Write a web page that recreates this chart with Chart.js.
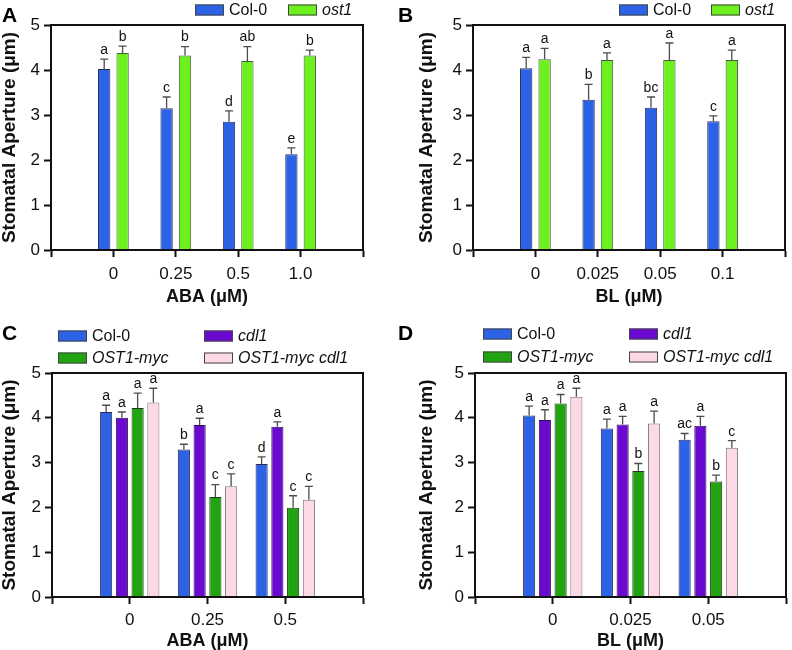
<!DOCTYPE html>
<html><head><meta charset="utf-8">
<script src="https://cdn.jsdelivr.net/npm/chart.js@4.4.1/dist/chart.umd.min.js"></script>
<style>
html,body{margin:0;padding:0;background:#fff;}
#wrap{position:relative;width:792px;height:650px;overflow:hidden;background:#fff;}
.pan{position:absolute;}
</style></head><body>
<div id="wrap">
<div class="pan" style="left:0;top:0;width:396px;height:320px"><canvas id="cA"></canvas></div>
<div class="pan" style="left:396px;top:0;width:396px;height:320px"><canvas id="cB"></canvas></div>
<div class="pan" style="left:0;top:320px;width:396px;height:330px"><canvas id="cC"></canvas></div>
<div class="pan" style="left:396px;top:320px;width:396px;height:330px"><canvas id="cD"></canvas></div>
</div>
<script>
// ---------- DATA ----------
const yTicks = [0, 1, 2, 3, 4, 5];

// Panel A: ABA (µM)
const catsA = ['0', '0.25', '0.5', '1.0'];
const colA = [4.02, 3.15, 2.85, 2.13];
const colAErr = [0.22, 0.25, 0.24, 0.14];
const colALetters = ['a', 'c', 'd', 'e'];
const ost1A = [4.38, 4.32, 4.20, 4.32];
const ost1AErr = [0.15, 0.20, 0.32, 0.12];
const ost1ALetters = ['b', 'b', 'ab', 'b'];

// Panel B: BL (µM)
const catsB = ['0', '0.025', '0.05', '0.1'];
const colB = [4.04, 3.34, 3.16, 2.86];
const colBErr = [0.24, 0.34, 0.24, 0.12];
const colBLetters = ['a', 'b', 'bc', 'c'];
const ost1B = [4.24, 4.22, 4.22, 4.22];
const ost1BErr = [0.24, 0.16, 0.38, 0.22];
const ost1BLetters = ['a', 'a', 'a', 'a'];

// Panel C: ABA (µM)
const catsC = ['0', '0.25', '0.5'];
const colC = [4.13, 3.29, 2.97];
const colCErr = [0.15, 0.12, 0.16];
const colCLetters = ['a', 'b', 'd'];
const cdl1C = [4.00, 3.84, 3.80];
const cdl1CErr = [0.13, 0.15, 0.11];
const cdl1CLetters = ['a', 'a', 'a'];
const mycC = [4.22, 2.23, 1.99];
const mycCErr = [0.33, 0.28, 0.27];
const mycCLetters = ['a', 'c', 'c'];
const mycCdlC = [4.34, 2.47, 2.17];
const mycCdlCErr = [0.32, 0.28, 0.30];
const mycCdlCLetters = ['a', 'c', 'c'];

// Panel D: BL (µM)
const catsD = ['0', '0.025', '0.05'];
const colD = [4.05, 3.76, 3.51];
const colDErr = [0.21, 0.21, 0.14];
const colDLetters = ['a', 'a', 'ac'];
const cdl1D = [3.95, 3.85, 3.82];
const cdl1DErr = [0.23, 0.18, 0.21];
const cdl1DLetters = ['a', 'a', 'a'];
const mycD = [4.32, 2.81, 2.58];
const mycDErr = [0.20, 0.17, 0.14];
const mycDLetters = ['a', 'b', 'b'];
const mycCdlD = [4.47, 3.87, 3.33];
const mycCdlDErr = [0.19, 0.28, 0.16];
const mycCdlDLetters = ['a', 'a', 'c'];

// ---------- STYLE ----------
const FONT = '"Liberation Sans", Arial, Helvetica, sans-serif';
const C_BLUE = '#2c62e6', C_LIME = '#6cf01e', C_PURPLE = '#6a0ad0', C_GREEN = '#22a311', C_PINK = '#fdd8e7';

function panel(id, o) {
  const labels = ['', ...o.cats, ''];
  const pad = a => [null, ...a, null];
  const datasets = o.series.map(s => ({
    label: s.name,
    data: pad(s.values),
    backgroundColor: s.color,
    borderColor: s.border,
    borderWidth: 1,
    categoryPercentage: o.catPct,
    barPercentage: o.barPct
  }));
  const overlay = {
    id: 'overlay',
    afterDraw(chart) {
      const ctx = chart.ctx, ca = chart.chartArea, ys = chart.scales.y;
      ctx.save();
      // plot frame
      ctx.strokeStyle = '#111';
      ctx.lineWidth = 2;
      ctx.strokeRect(ca.left, ca.top, ca.right - ca.left, ca.bottom - ca.top);
      // error bars + significance letters
      o.series.forEach((s, i) => {
        const meta = chart.getDatasetMeta(i);
        s.values.forEach((v, j) => {
          const bar = meta.data[j + 1];
          if (!bar) return;
          const yTop = ys.getPixelForValue(v + s.err[j]);
          ctx.strokeStyle = '#4d4d4d';
          ctx.lineWidth = 1.3;
          ctx.beginPath();
          ctx.moveTo(bar.x, bar.y);
          ctx.lineTo(bar.x, yTop);
          ctx.moveTo(bar.x - 4, yTop);
          ctx.lineTo(bar.x + 4, yTop);
          ctx.stroke();
          ctx.fillStyle = '#111';
          ctx.font = '14px ' + FONT;
          ctx.textAlign = 'center';
          ctx.textBaseline = 'bottom';
          ctx.fillText(s.letters[j], bar.x, yTop - 2);
        });
      });
      // legend
      o.legend.forEach(it => {
        ctx.fillStyle = it.color;
        ctx.fillRect(it.x, it.y - 5.5, 29, 11);
        ctx.strokeStyle = '#444';
        ctx.lineWidth = 1;
        ctx.strokeRect(it.x + 0.5, it.y - 5, 28, 10);
        ctx.fillStyle = '#111';
        ctx.font = (it.italic ? 'italic ' : '') + '16px ' + FONT;
        ctx.textAlign = 'left';
        ctx.textBaseline = 'middle';
        ctx.fillText(it.text, it.x + 34, it.y + 1);
      });
      // panel letter
      ctx.fillStyle = '#000';
      ctx.font = 'bold 21px ' + FONT;
      ctx.textAlign = 'left';
      ctx.textBaseline = 'alphabetic';
      ctx.fillText(o.letter, 2, o.letterY);
      ctx.restore();
    }
  };
  return new Chart(document.getElementById(id), {
    type: 'bar',
    data: { labels, datasets },
    options: {
      responsive: true,
      maintainAspectRatio: false,
      animation: false,
      layout: { padding: { top: o.top, right: o.right, bottom: o.bottomPad } },
      plugins: { legend: { display: false }, tooltip: { enabled: false } },
      scales: {
        x: {
          type: 'category',
          offset: false,
          border: { display: true, color: '#111', width: 2 },
          grid: { offset: false, drawOnChartArea: false, tickLength: 7, tickWidth: 2, tickColor: '#111' },
          ticks: { color: '#111', font: { family: FONT, size: 17 }, padding: o.xTickPad, autoSkip: false, maxRotation: 0 },
          title: { display: true, text: o.xTitle, color: '#111', font: { family: FONT, size: 18, weight: 'bold', lineHeight: 1 }, padding: 0 },
          afterFit: s => { s.height = o.xH; }
        },
        y: {
          min: 0, max: 5,
          afterBuildTicks: s => { s.ticks = yTicks.map(v => ({ value: v })); },
          border: { display: true, color: '#111', width: 2 },
          grid: { drawOnChartArea: false, tickLength: 7, tickWidth: 2, tickColor: '#111' },
          ticks: { color: '#111', font: { family: FONT, size: 17 }, padding: 4 },
          title: { display: true, text: 'Stomatal Aperture (μm)', color: '#111', font: { family: FONT, size: 19, weight: 'bold', lineHeight: 1 }, padding: o.yTitlePad },
          afterFit: s => { s.width = o.yW; }
        }
      }
    },
    plugins: [overlay]
  });
}

panel('cA', {
  letter: 'A', letterY: 22, cats: catsA, xTitle: 'ABA (μM)',
  top: 25, right: 33, bottomPad: 14, xH: 56, yW: 51, yTitlePad: 0, xTickPad: 7,
  catPct: 0.59, barPct: 0.67,
  series: [
    { name: 'Col-0', values: colA, err: colAErr, letters: colALetters, color: C_BLUE, border: '#2b2b55' },
    { name: 'ost1', values: ost1A, err: ost1AErr, letters: ost1ALetters, color: C_LIME, border: '#4a5a40' }
  ],
  legend: [
    { x: 195, y: 10, text: 'Col-0', color: C_BLUE },
    { x: 288, y: 10, text: 'ost1', color: C_LIME, italic: true }
  ]
});

panel('cB', {
  letter: 'B', letterY: 22, cats: catsB, xTitle: 'BL (μM)',
  top: 25, right: 6, bottomPad: 14, xH: 56, yW: 77, yTitlePad: { top: 21, bottom: 0 }, xTickPad: 7,
  catPct: 0.59, barPct: 0.67,
  series: [
    { name: 'Col-0', values: colB, err: colBErr, letters: colBLetters, color: C_BLUE, border: '#2b2b55' },
    { name: 'ost1', values: ost1B, err: ost1BErr, letters: ost1BLetters, color: C_LIME, border: '#4a5a40' }
  ],
  legend: [
    { x: 223, y: 10, text: 'Col-0', color: C_BLUE },
    { x: 315, y: 10, text: 'ost1', color: C_LIME, italic: true }
  ]
});

panel('cC', {
  letter: 'C', letterY: 20, cats: catsC, xTitle: 'ABA (μM)',
  top: 53, right: 33, bottomPad: 0, xH: 53, yW: 52, yTitlePad: 0, xTickPad: 6,
  catPct: 0.81, barPct: 0.77,
  series: [
    { name: 'Col-0', values: colC, err: colCErr, letters: colCLetters, color: C_BLUE, border: '#2b2b55' },
    { name: 'cdl1', values: cdl1C, err: cdl1CErr, letters: cdl1CLetters, color: C_PURPLE, border: '#2a1050' },
    { name: 'OST1-myc', values: mycC, err: mycCErr, letters: mycCLetters, color: C_GREEN, border: '#1f3a18' },
    { name: 'OST1-myc cdl1', values: mycCdlC, err: mycCdlCErr, letters: mycCdlCLetters, color: C_PINK, border: '#777' }
  ],
  legend: [
    { x: 58, y: 16, text: 'Col-0', color: C_BLUE },
    { x: 204, y: 16, text: 'cdl1', color: C_PURPLE, italic: true },
    { x: 58, y: 38, text: 'OST1-myc', color: C_GREEN, italic: true },
    { x: 204, y: 38, text: 'OST1-myc cdl1', color: C_PINK, italic: true }
  ]
});

panel('cD', {
  letter: 'D', letterY: 20, cats: catsD, xTitle: 'BL (μM)',
  top: 53, right: 6, bottomPad: 0, xH: 53, yW: 79, yTitlePad: { top: 21, bottom: 0 }, xTickPad: 6,
  catPct: 0.81, barPct: 0.77,
  series: [
    { name: 'Col-0', values: colD, err: colDErr, letters: colDLetters, color: C_BLUE, border: '#2b2b55' },
    { name: 'cdl1', values: cdl1D, err: cdl1DErr, letters: cdl1DLetters, color: C_PURPLE, border: '#2a1050' },
    { name: 'OST1-myc', values: mycD, err: mycDErr, letters: mycDLetters, color: C_GREEN, border: '#1f3a18' },
    { name: 'OST1-myc cdl1', values: mycCdlD, err: mycCdlDErr, letters: mycCdlDLetters, color: C_PINK, border: '#777' }
  ],
  legend: [
    { x: 87, y: 14, text: 'Col-0', color: C_BLUE },
    { x: 233, y: 14, text: 'cdl1', color: C_PURPLE, italic: true },
    { x: 87, y: 37, text: 'OST1-myc', color: C_GREEN, italic: true },
    { x: 233, y: 37, text: 'OST1-myc cdl1', color: C_PINK, italic: true }
  ]
});
</script>
</body></html>
